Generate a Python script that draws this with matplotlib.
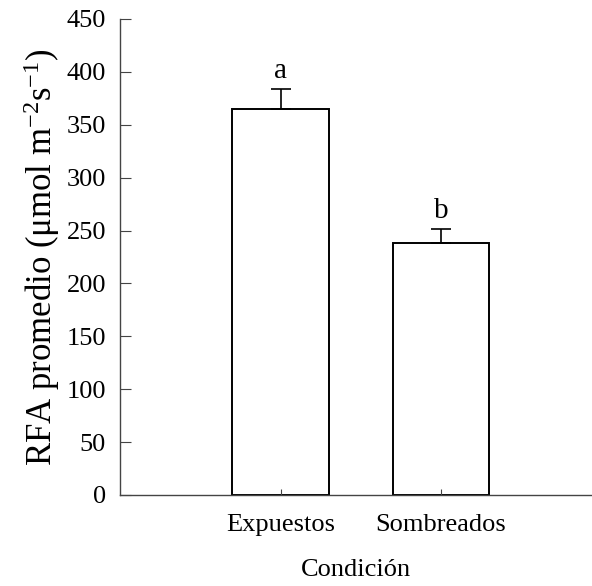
import numpy as np
import matplotlib
matplotlib.use("Agg")
import matplotlib.pyplot as plt

# datos
condiciones = ["Expuestos", "Sombreados"]
rfa_promedio = [365, 238]
error_est = [19, 13]
letras = ["a", "b"]

plt.rcParams['font.family'] = ['Liberation Serif']
plt.rcParams['mathtext.fontset'] = 'custom'
plt.rcParams['mathtext.rm'] = 'Liberation Serif'
plt.rcParams['mathtext.it'] = 'Liberation Serif'

fig = plt.figure(figsize=(5.92, 5.86), dpi=100)
ax = fig.add_axes([0.2027, 0.1553, 0.7973, 0.8123])

x = np.arange(len(condiciones))
ax.bar(x, rfa_promedio, width=0.6, color='white', edgecolor='black', linewidth=1.4)
ax.errorbar(x, rfa_promedio, yerr=[np.zeros(len(x)), error_est], fmt='none',
            ecolor='black', elinewidth=1.2, capsize=7, capthick=1.2)
for xi, v, e, l in zip(x, rfa_promedio, error_est, letras):
    ax.text(xi, v + e + 5, l, ha='center', va='bottom', fontsize=21)

ax.set_xlim(-1, 1.94)
ax.set_ylim(0, 450)
ax.set_yticks(np.arange(0, 451, 50))
ax.set_xticks(x)
ax.set_xticklabels(condiciones)
ax.spines['top'].set_visible(False)
ax.spines['right'].set_visible(False)
for s in ['left', 'bottom']:
    ax.spines[s].set_color('#444444')
    ax.spines[s].set_linewidth(1.0)
ax.tick_params(axis='y', direction='in', length=8, labelsize=19, pad=10, color='#444444')
ax.tick_params(axis='x', direction='in', length=4, labelsize=19, pad=14, color='#444444')

ax.set_xlabel('Condición', fontsize=19, labelpad=16)
ax.set_ylabel(r'RFA promedio ($\mathrm{\mu}$mol m$^{\mathrm{-2}}$s$^{\mathrm{-1}}$)', fontsize=25, labelpad=3)

plt.savefig('out.png', dpi=100)
